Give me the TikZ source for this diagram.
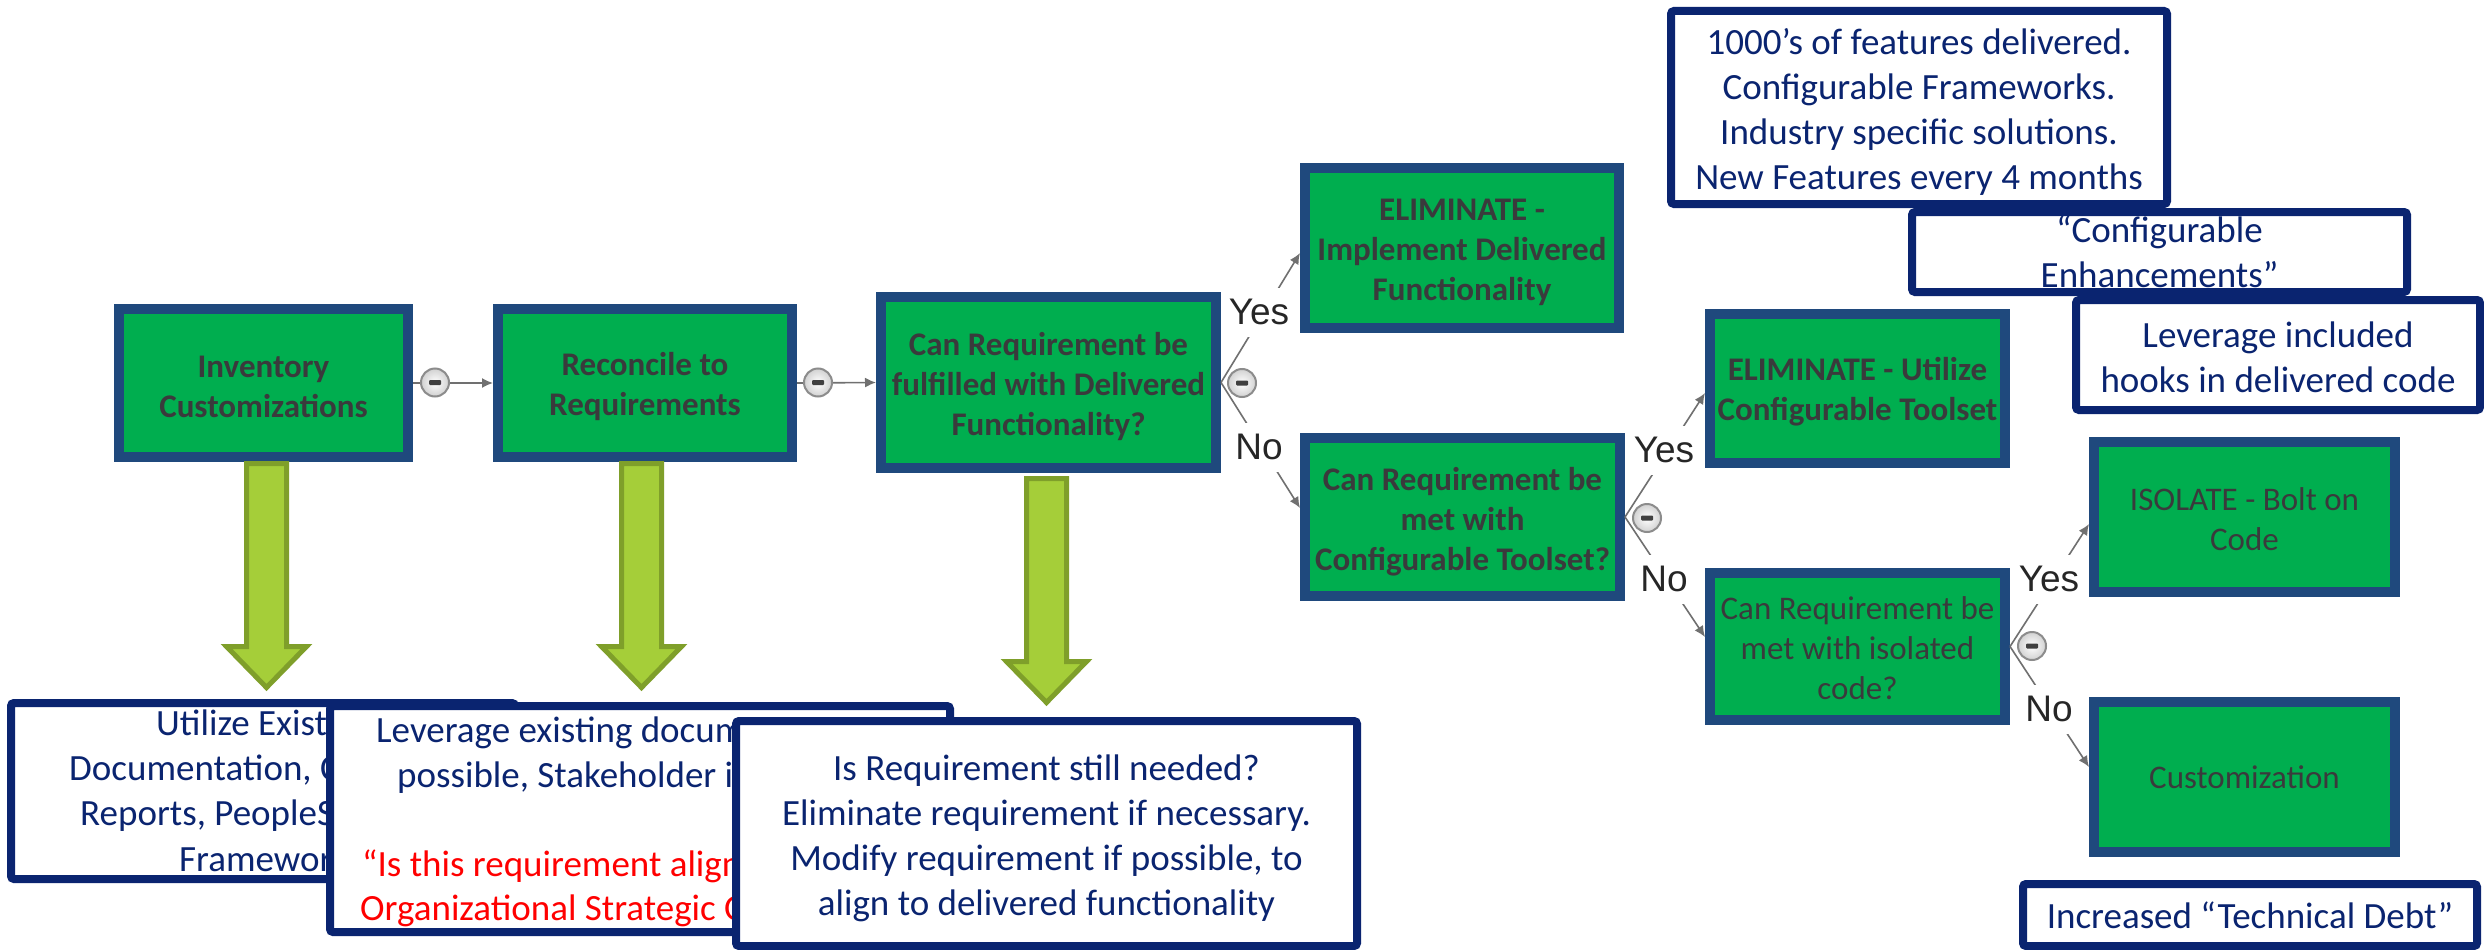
\documentclass[tikz,border=0pt]{standalone}
\usepackage{fontspec}
\setmainfont{Carlito}
\newfontfamily\labelfont{Liberation Sans}
\usetikzlibrary{arrows.meta,shadows,calc}
\definecolor{boxgreen}{HTML}{00AE4F}
\definecolor{boxedge}{HTML}{1F497D}
\definecolor{calloutblue}{HTML}{0A2470}
\definecolor{arrowfill}{HTML}{A5CE39}
\definecolor{arrowedge}{HTML}{7F9F2A}
\definecolor{linkgray}{HTML}{707070}
\definecolor{boxtext}{HTML}{3A3A3C}
\definecolor{alertred}{HTML}{FF0000}
\newcommand{\dropby}[1]{\rule{0pt}{\dimexpr 24pt+2\dimexpr#1\relax\relax}}
\newcommand{\dropcall}[1]{\rule{0pt}{\dimexpr 27pt+2\dimexpr#1\relax\relax}}
\tikzset{
  greenbox/.style={draw=boxedge,fill=boxgreen,line width=10pt,inner sep=0pt,align=center,
    text=boxtext,font=\fontsize{33}{40}\selectfont,
    drop shadow={shadow xshift=2pt,shadow yshift=-3pt,opacity=.35,fill=black}},
  boldbox/.style={greenbox,font=\fontsize{33}{40}\selectfont\bfseries},
  callout/.style={draw=calloutblue,fill=white,line width=8pt,rounded corners=3pt,inner sep=0pt,
    align=center,text=calloutblue,font=\fontsize{37}{45}\selectfont},
  fragment/.style={anchor=west,inner sep=0pt,text height=26pt,text depth=8pt,
    text=calloutblue,font=\fontsize{37}{45}\selectfont},
  redfragment/.style={fragment,text=alertred},
  link/.style={draw=linkgray,line width=1.6pt,-{Latex[length=11pt,width=10pt]}},
  branchlabel/.style={fill=white,inner xsep=1pt,inner ysep=0pt,minimum height=49pt,
    text=black!85,font=\labelfont\fontsize{37}{40}\selectfont},
  minusdot/.style={circle,draw=black!45,line width=2pt,minimum size=28pt,inner sep=0pt,
    inner color=white,outer color=black!18,
    path picture={\fill[black!75,rounded corners=1pt]
      ([shift={(-6pt,-2.5pt)}]path picture bounding box.center) rectangle
      ([shift={(6pt,2.5pt)}]path picture bounding box.center);}},
  blockarrow/.style={draw=arrowedge,fill=arrowfill,line width=5pt,miter limit=10},
}
\newcommand{\downarrowblock}[2]{% top-centre coordinate name, shaft length
  \draw[blockarrow] ($(#1)+(-20,0)$) -- ($(#1)+(20,0)$) -- ($(#1)+(20,#2)$) -- ($(#1)+(40,#2)$)
    -- ($(#1)+(0,#2+41)$) -- ($(#1)+(-40,#2)$) -- ($(#1)+(-20,#2)$) -- cycle;}
\begin{document}
\begin{tikzpicture}[x=1pt,y=-1pt]
\useasboundingbox (0,0) rectangle (2484,950);
\fill[white] (0,0) rectangle (2484,950);

% process boxes
\node[boldbox,minimum width=289pt,minimum height=148pt] (inv) at (263.5,383) {\dropby{3pt}Inventory\\Customizations};
\node[boldbox,minimum width=294pt,minimum height=148pt] (rec) at (645,383) {\dropby{3pt}Reconcile to\\Requirements};
\node[boldbox,minimum width=335pt,minimum height=171pt] (ful) at (1048.5,382.5) {\dropby{4pt}Can Requirement be\\fulfilled with Delivered\\Functionality?};
\node[boldbox,minimum width=314pt,minimum height=160pt] (eli) at (1462,248) {\dropby{3pt}ELIMINATE -\\Implement Delivered\\Functionality};
\node[boldbox,minimum width=315pt,minimum height=158pt] (cfg) at (1462.5,517) {\dropby{4pt}Can Requirement be\\met with\\Configurable Toolset?};
\node[boldbox,minimum width=295pt,minimum height=149pt] (uti) at (1857.5,388.5) {\dropby{3pt}ELIMINATE - Utilize\\Configurable Toolset};
\node[greenbox,minimum width=295pt,minimum height=147pt] (iso) at (1857.5,646.5) {\dropby{1.5pt}Can Requirement be\\met with isolated\\code?};
\node[greenbox,minimum width=301pt,minimum height=150pt] (bol) at (2244.5,517) {\dropby{1.5pt}ISOLATE - Bolt on\\Code};
\node[greenbox,minimum width=301pt,minimum height=150pt] (cus) at (2244.5,777) {Customization};

% connectors
\draw[link] (inv.east) -- (rec.west);
\draw[link] (rec.east) -- (ful.west);
\draw[link] (ful.east) -- ([yshift=-5pt]eli.west);
\draw[link] (ful.east) -- ([yshift=9pt]cfg.west);
\draw[link] (cfg.east) -- ([yshift=-4.5pt]uti.west);
\draw[link] (cfg.east) -- ([yshift=9.5pt]iso.west);
\draw[link] (iso.east) -- ([yshift=-7pt]bol.west);
\draw[link] (iso.east) -- ([yshift=10pt]cus.west);

% branch labels
\node[branchlabel] (y1) at (1259,312) {Yes};
\node[branchlabel] (n1) at (1259,447) {No};
\node[branchlabel] (y2) at (1664,450) {Yes};
\node[branchlabel] (n2) at (1664,579) {No};
\node[branchlabel] (y3) at (2049,579) {Yes};
\node[branchlabel] (n3) at (2049,709) {No};

% collapse markers
\node[minusdot] (m1) at (435,382.5) {};
\node[minusdot] (m2) at (818,382.5) {};
\node[minusdot] (m3) at (1242,383) {};
\node[minusdot] (m4) at (1647,518) {};
\node[minusdot] (m5) at (2032,646) {};

% block arrows
\coordinate (a1) at (266.5,463.5);
\coordinate (a2) at (641.5,463.5);
\coordinate (a3) at (1046.5,478.5);
\downarrowblock{a1}{183}
\downarrowblock{a2}{183}
\downarrowblock{a3}{183}

% callouts, top right
\node[callout,minimum width=496pt,minimum height=193pt] (feat) at (1919,107.5) {\dropcall{4pt}1000’s of features delivered.\\Configurable Frameworks.\\Industry specific solutions.\\New Features every 4 months};
\node[callout,minimum width=495pt,minimum height=80pt] (enh) at (2159.5,252) {“Configurable\\Enhancements”};
\node[callout,minimum width=404pt,minimum height=110pt] (hook) at (2278,355) {\dropcall{1.5pt}Leverage included\\hooks in delivered code};
\node[callout,minimum width=454pt,minimum height=62pt] (debt) at (2250,915) {Increased “Technical Debt”};

% callouts, bottom left (overlapping)
\node[callout,minimum width=504pt,minimum height=176pt] (docs) at (263,791) {};
\node[fragment] (d1) at (156,726) {Utilize Exist};
\node[fragment] (d2) at (69,771) {Documentation, C};
\node[fragment] (d3) at (80,816) {Reports, PeopleS};
\node[fragment] (d4) at (179,862) {Framewor};
\node[callout,minimum width=620pt,minimum height=226pt] (lev) at (640,819) {};
\node[fragment] (l1) at (376,733) {Leverage existing docum};
\node[fragment] (l2) at (397,778) {possible, Stakeholder i};
\node[redfragment] (l3) at (362,867) {“Is this requirement align};
\node[redfragment] (l4) at (360,911) {Organizational Strategic O};
\node[callout,minimum width=621pt,minimum height=225pt] (need) at (1046.5,833.5) {\dropcall{4pt}Is Requirement still needed?\\Eliminate requirement if necessary.\\Modify requirement if possible, to\\align to delivered functionality};
\end{tikzpicture}
\end{document}
